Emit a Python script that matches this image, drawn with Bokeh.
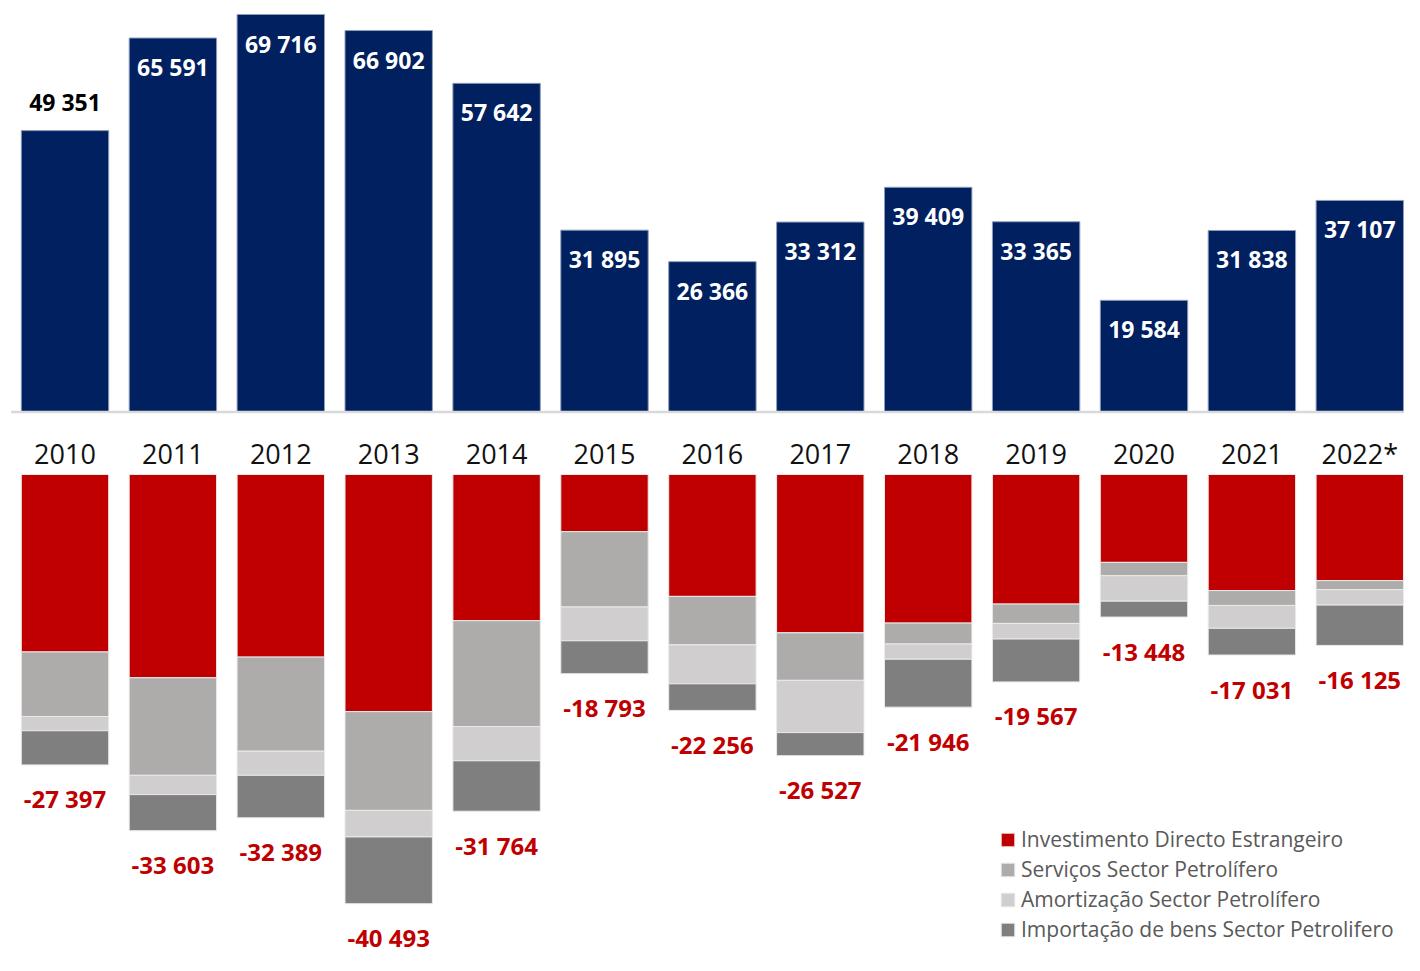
from bokeh.plotting import figure
from bokeh.models import ColumnDataSource, Range1d, Legend, LegendItem
from bokeh.core.properties import value
from bokeh.embed import file_html
from bokeh.resources import INLINE

# ---------------- data ----------------
years = ["2010", "2011", "2012", "2013", "2014", "2015", "2016",
         "2017", "2018", "2019", "2020", "2021", "2022*"]
inflows = [49351, 65591, 69716, 66902, 57642, 31895, 26366,
           33312, 39409, 33365, 19584, 31838, 37107]
ide = [-16743, -19176, -17226, -22370, -13791, -5396, -11500,
       -14939, -14018, -12224, -8291, -10950, -10010]
servicos = [-6088, -9203, -8882, -9317, -9987, -7105, -4571,
            -4481, -1973, -1825, -1258, -1403, -845]
amortizacao = [-1343, -1819, -2270, -2508, -3230, -3186, -3675,
               -4929, -1435, -1474, -2399, -2159, -1466]
importacao = [-3223, -3405, -4011, -6298, -4756, -3106, -2510,
              -2178, -4520, -4044, -1500, -2519, -3804]
series_names = ["Investimento Directo Estrangeiro",
                "Serviços Sector Petrolífero",
                "Amortização Sector Petrolífero",
                "Importação de bens Sector Petrolifero"]

# ---------------- styling ----------------
NAVY = "#002060"
RED = "#C00000"
SEG_COLORS = [RED, "#AEABAB", "#D0CECE", "#7F7F7F"]
FONT = value("Open Sans")

W, H = 1404, 955
x_first_px = 64.5       # pixel centre of first category inside frame
pitch = 107.9           # pixels per category
top_zero_px, top_scale = 411.5, 397.5 / 69716.0   # from frame top
bot_zero_px, bot_scale = 474.0, 0.0106

x_range = Range1d(-x_first_px / pitch, (W - x_first_px) / pitch)
y_top = Range1d(-(H - top_zero_px) / top_scale, top_zero_px / top_scale)
y_bot = Range1d(-(H - bot_zero_px) / bot_scale, bot_zero_px / bot_scale)

p = figure(width=W, height=H, output_backend="svg", toolbar_location=None,
           x_range=x_range, y_range=y_top, x_axis_type=None, y_axis_type=None,
           min_border=0, min_border_left=0, min_border_right=0,
           min_border_top=0, min_border_bottom=0)
p.extra_y_ranges = {"neg": y_bot}
p.grid.visible = False
p.outline_line_color = None
p.background_fill_color = "white"
p.border_fill_color = "white"

xs = list(range(len(years)))

# ---------------- top bars ----------------
top_src = ColumnDataSource(dict(
    x=xs, v=inflows,
    label=[f"{v:,}".replace(",", " ") for v in inflows],
    col=["#000000"] + ["#FFFFFF"] * (len(years) - 1),
    off=[-29] + [29] * (len(years) - 1),
))
p.vbar(x="x", top="v", bottom=0, width=0.81, source=top_src,
       fill_color=NAVY, line_color="#8E9CBB", line_width=1)
p.segment(x0=-0.5, y0=0, x1=len(years) + 1, y1=0,
          line_color="#D9D9D9", line_width=2.5)
p.text(x="x", y="v", text="label", source=top_src, text_color="col",
       y_offset="off", text_align="center", text_baseline="middle",
       text_font=FONT, text_font_style="bold", text_font_size="23px")

# ---------------- bottom stacked bars ----------------
keys = ["ide", "serv", "amort", "imp"]
totals = [a + b + c + d for a, b, c, d in zip(ide, servicos, amortizacao, importacao)]
bot_src = ColumnDataSource(dict(
    x=xs, ide=ide, serv=servicos, amort=amortizacao, imp=importacao,
    total=totals, zero=[0] * len(years), year=years,
    tlabel=[("-" if t < 0 else "") + f"{abs(t):,}".replace(",", " ") for t in totals],
))
rs = p.vbar_stack(keys, x="x", width=0.81, source=bot_src, color=SEG_COLORS,
                  line_color="#EAEAEA", line_width=1, y_range_name="neg")

p.text(x="x", y="total", text="tlabel", source=bot_src, y_range_name="neg",
       y_offset=34, text_color=RED, text_align="center", text_baseline="middle",
       text_font=FONT, text_font_style="bold", text_font_size="24px")

# year labels
p.text(x="x", y="zero", text="year", source=bot_src, y_range_name="neg",
       y_offset=-21, text_color="#111111", text_align="center",
       text_baseline="middle", text_font=FONT, text_font_size="27px")

# ---------------- legend ----------------
legend = Legend(items=[LegendItem(label=n, renderers=[r]) for n, r in zip(series_names, rs)],
                location=(999, 12), orientation="vertical",
                background_fill_alpha=0, border_line_color=None,
                padding=0, margin=0, spacing=2,
                glyph_width=17, glyph_height=17, label_standoff=5,
                label_height=28, label_text_font="Open Sans",
                label_text_font_size="21px", label_text_color="#595959")
p.add_layout(legend)

open("out.html", "w").write(file_html(p, INLINE))
